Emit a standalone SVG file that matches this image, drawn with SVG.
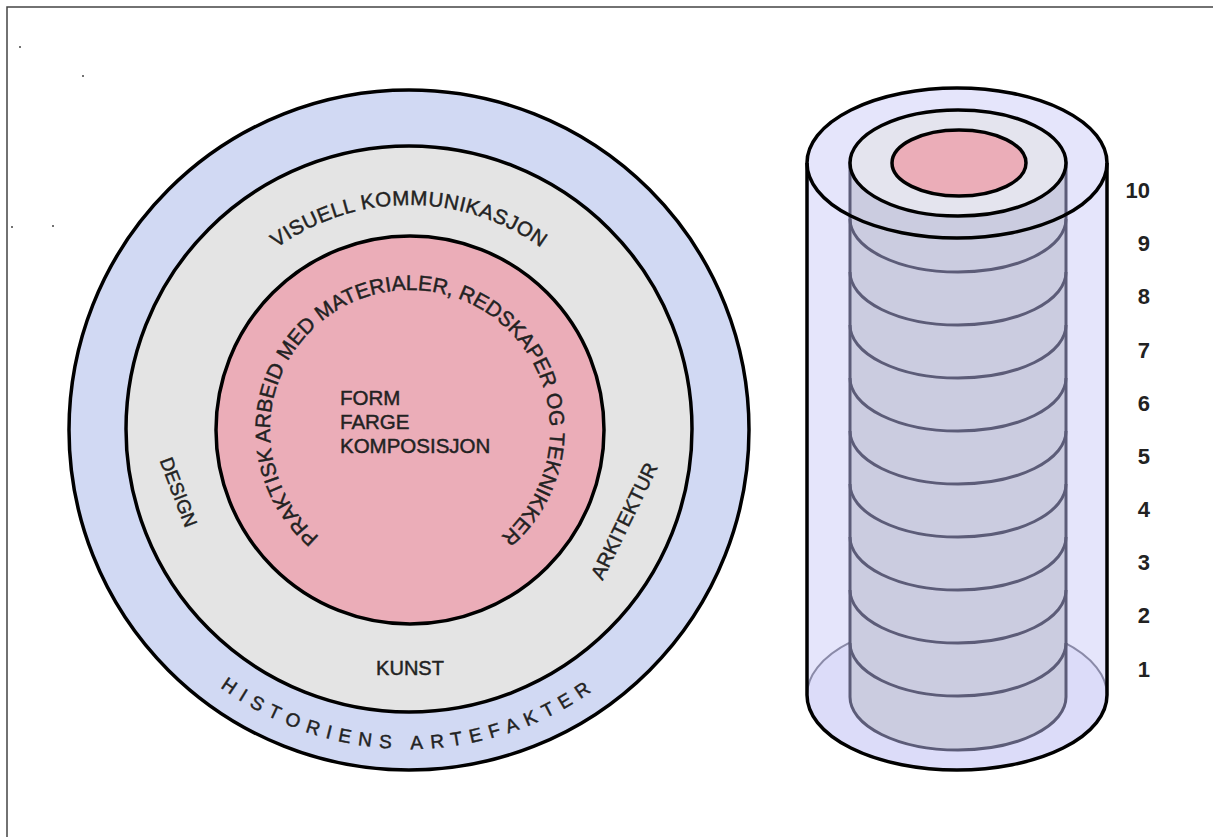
<svg xmlns="http://www.w3.org/2000/svg" width="1213" height="837" viewBox="0 0 1213 837">
<style>
.t{font-family:"Liberation Sans",Arial,sans-serif;fill:#222;stroke:#222;stroke-width:0.45;}
.ring{stroke:#000;stroke-width:3.5;}
.lay{fill:none;stroke:#5c5c78;stroke-width:3;}
.num{font-family:"Liberation Sans",Arial,sans-serif;font-weight:bold;font-size:22px;fill:#222;text-anchor:end;}
</style>
<defs>
<path id="pVis" d="M184,430 A225,225 0 0 1 634,430"/>
<path id="pPrak" d="M410,570 A140,140 0 1 1 410,290 A140,140 0 1 1 410,570"/>
<path id="pHist" d="M90,430 A319,319 0 0 0 728,430"/>
</defs>
<rect x="0" y="0" width="1213" height="837" fill="#fff"/>
<path d="M7,837 V7 H1213" fill="none" stroke="#444" stroke-width="1.5"/>
<g fill="#444">
<circle cx="20" cy="47" r="1"/>
<circle cx="83" cy="76" r="1"/>
<circle cx="12" cy="227" r="1"/>
<circle cx="53" cy="226" r="1"/>
</g>

<g id="outer-ring">
<circle cx="409" cy="430" r="340" fill="#d1d9f3" class="ring"/>
<text class="t" font-size="19" letter-spacing="7.6"><textPath href="#pHist" startOffset="50%" text-anchor="middle">HISTORIENS ARTEFAKTER</textPath></text>
</g>
<g id="middle-ring">
<circle cx="409" cy="429" r="283" fill="#e4e4e4" class="ring"/>
<text class="t" font-size="20.5" letter-spacing="0.6"><textPath href="#pVis" startOffset="50%" text-anchor="middle">VISUELL KOMMUNIKASJON</textPath></text>
<text class="t" font-size="19" text-anchor="middle" transform="translate(179,492) rotate(69)" y="7">DESIGN</text>
<text class="t" font-size="20" text-anchor="middle" transform="translate(624,521) rotate(-64)" y="7">ARKITEKTUR</text>
<text class="t" font-size="20" text-anchor="middle" x="410" y="675">KUNST</text>
</g>
<g id="inner-circle">
<circle cx="410" cy="430" r="194" fill="#ebadb8" class="ring"/>
<text class="t" font-size="21"><textPath href="#pPrak" startOffset="50%" text-anchor="middle">PRAKTISK ARBEID MED MATERIALER, REDSKAPER OG TEKNIKKER</textPath></text>
<text class="t" font-size="20.5" x="340" y="405">FORM</text>
<text class="t" font-size="20.5" x="340" y="429">FARGE</text>
<text class="t" font-size="20.5" x="340" y="453">KOMPOSISJON</text>
</g>

<g id="cylinder">
<path d="M807,163 V695 A150,75 0 0 0 1107,695 V163 A150,75 0 0 0 807,163 Z" fill="#e5e5fb"/>
<ellipse cx="957" cy="695" rx="150" ry="75" fill="#dcdcf9" stroke="#8a8aa8" stroke-width="2"/>
<path d="M850,163 V697 A108,53 0 0 0 1066,697 V163 Z" fill="#cbcce0" stroke="#5c5c78" stroke-width="3"/>
<g class="lay">
<path d="M850,219 A108,53 0 0 0 1066,219"/>
<path d="M850,272 A108,53 0 0 0 1066,272"/>
<path d="M850,325 A108,53 0 0 0 1066,325"/>
<path d="M850,378 A108,53 0 0 0 1066,378"/>
<path d="M850,431 A108,53 0 0 0 1066,431"/>
<path d="M850,484 A108,53 0 0 0 1066,484"/>
<path d="M850,537 A108,53 0 0 0 1066,537"/>
<path d="M850,590 A108,53 0 0 0 1066,590"/>
<path d="M850,643 A108,53 0 0 0 1066,643"/>
</g>
<ellipse cx="958" cy="163" rx="108" ry="53" fill="#e4e4ee" class="ring"/>
<ellipse cx="959" cy="163" rx="67" ry="33" fill="#ebadb8" class="ring"/>
<ellipse cx="957" cy="163" rx="150" ry="75" fill="none" class="ring"/>
<path d="M807,163 V695 A150,75 0 0 0 1107,695 V163" fill="none" class="ring"/>
</g>
<g id="levels">
<text class="num" x="1150" y="198">10</text>
<text class="num" x="1150" y="251">9</text>
<text class="num" x="1150" y="304">8</text>
<text class="num" x="1150" y="358">7</text>
<text class="num" x="1150" y="411">6</text>
<text class="num" x="1150" y="464">5</text>
<text class="num" x="1150" y="517">4</text>
<text class="num" x="1150" y="570">3</text>
<text class="num" x="1150" y="623">2</text>
<text class="num" x="1150" y="677">1</text>
</g>
</svg>
